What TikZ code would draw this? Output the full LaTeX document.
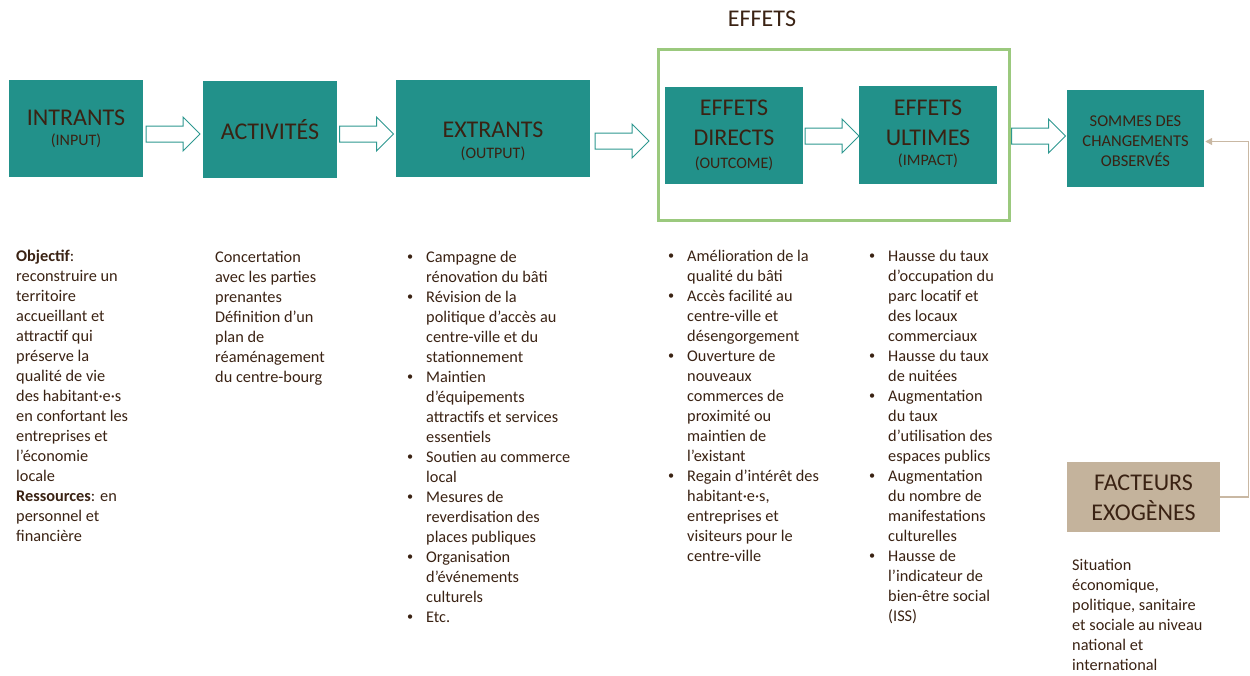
\documentclass[tikz,border=0pt]{standalone}
\usepackage{fontspec}
\usepackage{graphicx}
\setmainfont{Carlito}
\usetikzlibrary{arrows.meta,calc}
\definecolor{tealbox}{HTML}{22918A}
\definecolor{tealline}{HTML}{2E9890}
\definecolor{framegreen}{HTML}{9BC97E}
\definecolor{tanbox}{HTML}{C4B39C}
\definecolor{tanline}{HTML}{C9B8A3}
\definecolor{txt}{HTML}{3A2213}
\newcommand\bul{\makebox[20pt][l]{\hspace*{1pt}\raisebox{1.2pt}{\scalebox{0.75}{•}}}}
\newcommand\ind{\hspace*{20pt}}
\tikzset{
  box/.style={fill=tealbox, draw=none, inner sep=0pt},
  tanbx/.style={fill=tanbox, draw=none, inner sep=0pt},
  big/.style={text=txt, align=center, inner sep=0pt, font=\fontsize{24}{30}\selectfont},
  mid/.style={text=txt, align=center, inner sep=0pt, font=\fontsize{16.5}{20}\selectfont},
  body/.style={text=txt, inner sep=0pt, anchor=base west, font=\fontsize{16.3}{20}\selectfont},
  efframe/.style={draw=framegreen, line width=3pt, inner sep=0pt},
  barrowline/.style={draw=tealline, fill=white, line width=1pt, line join=miter},
  barrow/.pic={\path[barrowline] (-27,-8) -- (10,-8) -- (10,-17) -- (27,0) -- (10,17) -- (10,8) -- (-27,8) -- cycle;},
  conn/.style={draw=tanline, line width=1.4pt, -{Triangle[length=7pt,width=7pt]}},
}
\newcommand\sm[1]{{\fontsize{16}{16}\selectfont #1}}
\begin{document}
\begin{tikzpicture}[x=1pt,y=-1pt]
\useasboundingbox (0,0) rectangle (1250,675);

% title and frame
\node[text=txt, inner sep=0pt, anchor=base, font=\fontsize{24}{28}\selectfont] (title) at (762,26) {EFFETS};
\node[efframe, minimum width=351pt, minimum height=171pt] (frame) at (834,135) {};

% boxes
\node[box, minimum width=134pt, minimum height=97pt] (intrants) at (76,128.5) {};
\node[box, minimum width=134pt, minimum height=97pt] (activites) at (270,129.5) {};
\node[box, minimum width=194pt, minimum height=97pt] (extrants) at (493,128.5) {};
\node[box, minimum width=138pt, minimum height=97pt] (directs) at (734,135.5) {};
\node[box, minimum width=138pt, minimum height=98pt] (ultimes) at (928,135) {};
\node[box, minimum width=137pt, minimum height=97pt] (sommes) at (1135.5,138.5) {};
\node[tanbx, minimum width=153pt, minimum height=70pt] (facteurs) at (1143.5,497) {};

% box texts
\node[big] (intrants-t) at (76,128.5) {INTRANTS\\[-10pt]\sm{(INPUT)}};
\node[big] (activites-t) at (270,130) {ACTIVITÉS};
\node[big] (extrants-t) at (493,141.5) {EXTRANTS\\[-9pt]\sm{(OUTPUT)}};
\node[big] (directs-t) at (734,135.3) {EFFETS\\DIRECTS\\[-7pt]\sm{(OUTCOME)}};
\node[big] (ultimes-t) at (928,133.5) {EFFETS\\ULTIMES\\[-10pt]\sm{(IMPACT)}};
\node[mid] (sommes-t) at (1135.5,141) {SOMMES DES\\CHANGEMENTS\\OBSERVÉS};
\node[big] (facteurs-t) at (1143.5,498) {FACTEURS\\EXOGÈNES};

% block arrows
\pic (ar1) at (173,134) {barrow};
\pic (ar2) at (366.5,134) {barrow};
\pic (ar3) at (622,141) {barrow};
\pic (ar4) at (832,136) {barrow};
\pic (ar5) at (1038.5,136) {barrow};

% connector from exogenous factors
\draw[conn, shorten >=1pt] (facteurs.east) -- ++(28,0) |- ([yshift=-3pt]sommes.east);

% body texts
\node[body] (c1) at (16,261) {\begin{tabular}[t]{@{}l@{}}
\textbf{Objectif}:\\
reconstruire un\\
territoire\\
accueillant et\\
attractif qui\\
préserve la\\
qualité de vie\\
des habitant·e·s\\
en confortant les\\
entreprises et\\
l’économie\\
locale\\
\textbf{Ressources}: en\\
personnel et\\
financière
\end{tabular}};

\node[body] (c2) at (215,262) {\begin{tabular}[t]{@{}l@{}}
Concertation\\
avec les parties\\
prenantes\\
Définition d’un\\
plan de\\
réaménagement\\
du centre-bourg
\end{tabular}};

\node[body] (c3) at (406,262) {\begin{tabular}[t]{@{}l@{}}
\bul Campagne de\\
\ind rénovation du bâti\\
\bul Révision de la\\
\ind politique d’accès au\\
\ind centre-ville et du\\
\ind stationnement\\
\bul Maintien\\
\ind d’équipements\\
\ind attractifs et services\\
\ind essentiels\\
\bul Soutien au commerce\\
\ind local\\
\bul Mesures de\\
\ind reverdisation des\\
\ind places publiques\\
\bul Organisation\\
\ind d’événements\\
\ind culturels\\
\bul Etc.
\end{tabular}};

\node[body] (c4) at (667,261) {\begin{tabular}[t]{@{}l@{}}
\bul Amélioration de la\\
\ind qualité du bâti\\
\bul Accès facilité au\\
\ind centre-ville et\\
\ind désengorgement\\
\bul Ouverture de\\
\ind nouveaux\\
\ind commerces de\\
\ind proximité ou\\
\ind maintien de\\
\ind l’existant\\
\bul Regain d’intérêt des\\
\ind habitant·e·s,\\
\ind entreprises et\\
\ind visiteurs pour le\\
\ind centre-ville
\end{tabular}};

\node[body] (c5) at (868,261) {\begin{tabular}[t]{@{}l@{}}
\bul Hausse du taux\\
\ind d’occupation du\\
\ind parc locatif et\\
\ind des locaux\\
\ind commerciaux\\
\bul Hausse du taux\\
\ind de nuitées\\
\bul Augmentation\\
\ind du taux\\
\ind d’utilisation des\\
\ind espaces publics\\
\bul Augmentation\\
\ind du nombre de\\
\ind manifestations\\
\ind culturelles\\
\bul Hausse de\\
\ind l’indicateur de\\
\ind bien-être social\\
\ind (ISS)
\end{tabular}};

\node[body] (c6) at (1072,570) {\begin{tabular}[t]{@{}l@{}}
Situation\\
économique,\\
politique, sanitaire\\
et sociale au niveau\\
national et\\
international
\end{tabular}};
\end{tikzpicture}
\end{document}
